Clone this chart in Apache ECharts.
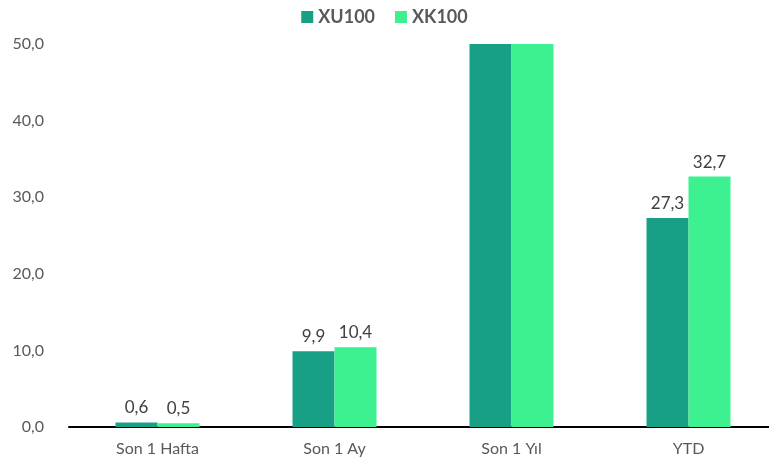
<!DOCTYPE html>
<html><head><meta charset="utf-8">
<script src="https://cdn.jsdelivr.net/npm/echarts@6/dist/echarts.min.js"></script>
<style>html,body{margin:0;padding:0;background:#fff}#c{width:769px;height:468px}</style>
</head><body><div id="c"></div>
<script>
const categories = ['Son 1 Hafta', 'Son 1 Ay', 'Son 1 Yıl', 'YTD'];
const xu100 = [0.6, 9.9, 62.0, 27.3];
const xk100 = [0.5, 10.4, 68.0, 32.7];
const yMin = 0, yMax = 50, yStep = 10;

const fmt = v => Number(v).toFixed(1).replace('.', ',');
const FONT = 'Lato';
function mk(vals){
  return vals.map(v => ({value: v, label: {show: v <= yMax}}));
}
const chart = echarts.init(document.getElementById('c'));
chart.setOption({
  animation: false,
  textStyle: {fontFamily: FONT},
  legend: {
    top: 3, left: 'center', itemWidth: 12, itemHeight: 12, itemGap: 20,
    icon: 'rect',
    textStyle: {fontFamily: FONT, fontWeight: 'bold', fontSize: 18, color: '#595959'},
    data: ['XU100', 'XK100']
  },
  grid: {left: 69, width: 708, top: 44, bottom: 41, outerBoundsMode: 'none', containLabel: false},
  xAxis: {
    type: 'category', data: categories,
    axisLine: {lineStyle: {color: '#000', width: 2}},
    axisTick: {show: false},
    axisLabel: {fontFamily: FONT, fontSize: 16, color: '#595959', margin: 14}
  },
  yAxis: {
    type: 'value', min: yMin, max: yMax, interval: yStep,
    axisLine: {show: false}, axisTick: {show: false}, splitLine: {show: false},
    axisLabel: {fontFamily: FONT, fontSize: 16, color: '#595959', formatter: fmt, margin: 25}
  },
  series: [
    {name: 'XU100', type: 'bar', data: mk(xu100), barWidth: 42, barGap: '0%',
     itemStyle: {color: '#17A086'},
     label: {position: 'top', distance: 6, formatter: p => fmt(p.value), fontFamily: FONT, fontSize: 17, color: '#404040'}},
    {name: 'XK100', type: 'bar', data: mk(xk100), barWidth: 42, barGap: '0%',
     itemStyle: {color: '#3DF190'},
     label: {position: 'top', distance: 6, formatter: p => fmt(p.value), fontFamily: FONT, fontSize: 17, color: '#404040'}}
  ]
});
</script></body></html>
